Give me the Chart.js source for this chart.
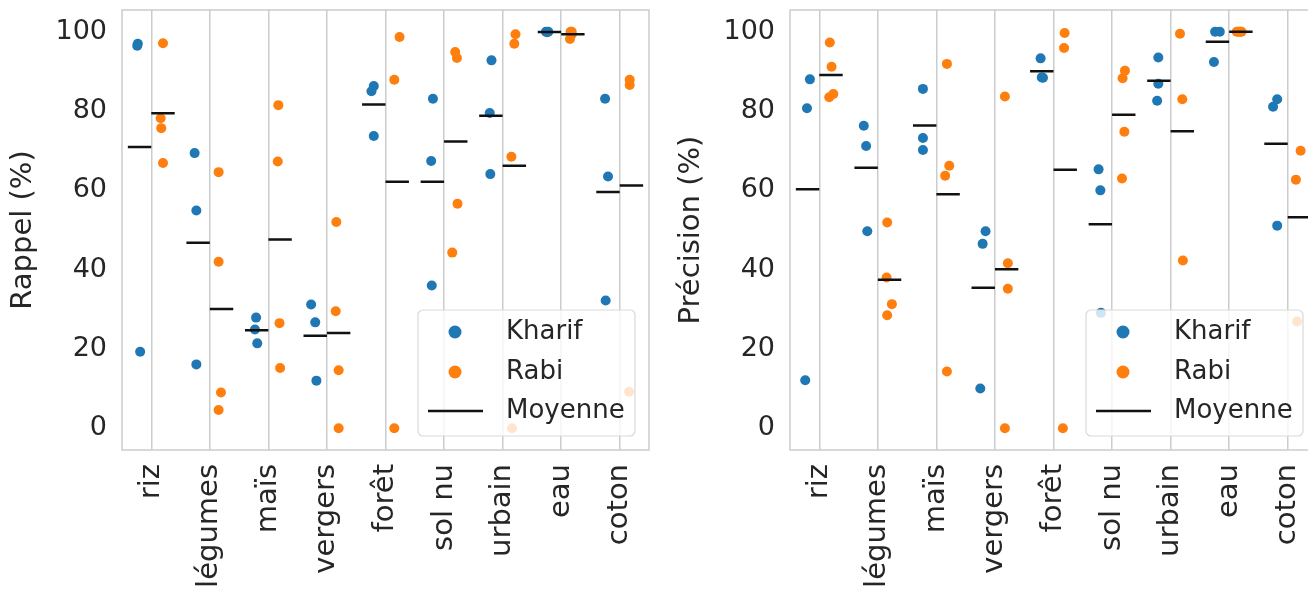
<!DOCTYPE html>
<html>
<head>
<meta charset="utf-8">
<script src="https://cdn.jsdelivr.net/npm/chart.js@4.4.0/dist/chart.umd.min.js"></script>
<style>
  html, body { margin: 0; padding: 0; background: #fff; width: 1308px; height: 594px; overflow: hidden; }
  canvas { position: absolute; top: 0; }
  #rappel { left: 0; }
  #precision { left: 668px; }
</style>
</head>
<body>
<canvas id="rappel" width="654" height="594"></canvas>
<canvas id="precision" width="654" height="594"></canvas>
<script>
const categories = ["riz", "légumes", "maïs", "vergers", "forêt", "sol nu", "urbain", "eau", "coton"];
const yTicks = [0, 20, 40, 60, 80, 100];
const legendLabels = ["Kharif", "Rabi", "Moyenne"];

// Rappel (%) per class, one list of scores per class
const rappelKharif = [[97.0, 96.5, 19.3], [69.4, 54.9, 16.1], [27.9, 24.9, 21.4], [31.2, 26.7, 12.0], [86.3, 85.0, 73.7],
  [83.1, 67.4, 36.0], [92.8, 79.5, 64.1], [100, 100, 99.9], [83.1, 63.5, 32.2]];
const rappelKharifJitter = [[-0.23, -0.24, -0.19], [-0.26, -0.23, -0.23], [-0.21, -0.23, -0.19], [-0.27, -0.2, -0.18], [-0.2, -0.24, -0.2],
  [-0.19, -0.22, -0.21], [-0.19, -0.22, -0.21], [-0.26, -0.22, -0.24], [-0.25, -0.2, -0.24]];
const rappelRabi = [[97.1, 78.2, 75.7, 66.9], [64.6, 42.0, 9.0, 4.6], [81.5, 67.3, 26.5, 15.2], [52.0, 29.5, 14.6, 0], [98.7, 87.9, 0],
  [94.9, 93.4, 56.6, 44.3], [99.4, 97.0, 68.5, 0], [100, 100, 99.3, 98.2], [87.9, 86.6, 9.2]];
const rappelRabiJitter = [[0.2, 0.16, 0.17, 0.2], [0.15, 0.15, 0.19, 0.15], [0.17, 0.16, 0.19, 0.2], [0.16, 0.15, 0.2, 0.2], [0.24, 0.15, 0.15],
  [0.19, 0.22, 0.23, 0.14], [0.22, 0.2, 0.15, 0.16], [0.16, 0.18, 0.18, 0.15], [0.17, 0.17, 0.16]];

// Précision (%)
const precisionKharif = [[88.0, 80.7, 12.1], [76.3, 71.2, 49.7], [85.6, 73.2, 70.2], [49.7, 46.5, 10.0], [93.3, 88.5, 88.4],
  [65.3, 60.0, 29.1], [93.5, 86.9, 82.6], [100, 100, 92.4], [83.0, 81.1, 51.1]];
const precisionKharifJitter = [[-0.16, -0.21, -0.24], [-0.24, -0.2, -0.18], [-0.23, -0.23, -0.23], [-0.16, -0.21, -0.25], [-0.22, -0.2, -0.18],
  [-0.23, -0.2, -0.19], [-0.21, -0.21, -0.23], [-0.24, -0.16, -0.26], [-0.18, -0.25, -0.18]];
const precisionRabi = [[97.3, 91.2, 84.3, 83.5], [51.9, 38.0, 31.3, 28.5], [91.9, 66.2, 63.7, 14.3], [83.7, 41.6, 35.2, 0], [99.7, 95.9, 0],
  [90.2, 88.3, 74.8, 63.0], [99.5, 83.0, 42.3], [100, 100, 100, 100], [70.0, 62.7, 26.9]];
const precisionRabiJitter = [[0.18, 0.21, 0.24, 0.17], [0.16, 0.15, 0.24, 0.16], [0.18, 0.22, 0.15, 0.18], [0.17, 0.22, 0.22, 0.17], [0.19, 0.18, 0.16],
  [0.22, 0.18, 0.21, 0.17], [0.16, 0.2, 0.21], [0.13, 0.16, 0.19, 0.21], [0.22, 0.14, 0.16]];

const BLUE = "#1f77b4";
const ORANGE = "#ff7f0e";
const TEXT = "#262626";
const GRID = "#cccccc";
const FONT = "DejaVu Sans";

const mean = a => a.reduce((s, v) => s + v, 0) / a.length;

function strip(groups, jitter) {
  const pts = [];
  groups.forEach((g, i) => g.forEach((v, j) => pts.push({x: i + jitter[i][j], y: v})));
  return pts;
}

function meanLine(groups, x0, x1) {
  const pts = [];
  groups.forEach((g, i) => {
    const m = mean(g);
    pts.push({x: i + x0, y: m}, {x: i + x1, y: m}, {x: i + x1, y: null});
  });
  return pts;
}

// plot frame, like the matplotlib spines
const framePlugin = {
  id: "frame",
  beforeDatasetsDraw(chart) {
    const {ctx, chartArea: a} = chart;
    ctx.save();
    ctx.strokeStyle = GRID;
    ctx.lineWidth = 1.5;
    ctx.strokeRect(a.left, a.top, a.right - a.left, a.bottom - a.top);
    ctx.restore();
  }
};

// legend box in the lower right corner of the plot
const legendPlugin = {
  id: "boxLegend",
  afterDatasetsDraw(chart) {
    const {ctx, chartArea: a} = chart;
    const w = 217, h = 126;
    const x = a.right - 14 - w, y = a.bottom - 14 - h;
    ctx.save();
    ctx.beginPath();
    ctx.roundRect(x, y, w, h, 5);
    ctx.fillStyle = "rgba(255,255,255,0.8)";
    ctx.fill();
    ctx.strokeStyle = "#d9d9d9";
    ctx.lineWidth = 1.2;
    ctx.stroke();

    const rows = [y + 22, y + 62, y + 101];
    ctx.fillStyle = BLUE;
    ctx.beginPath(); ctx.arc(x + 37, rows[0], 6.5, 0, Math.PI * 2); ctx.fill();
    ctx.fillStyle = ORANGE;
    ctx.beginPath(); ctx.arc(x + 37, rows[1], 6.5, 0, Math.PI * 2); ctx.fill();
    ctx.strokeStyle = "#111";
    ctx.lineWidth = 2.5;
    ctx.beginPath(); ctx.moveTo(x + 10, rows[2]); ctx.lineTo(x + 65, rows[2]); ctx.stroke();

    ctx.fillStyle = TEXT;
    ctx.font = "26px '" + FONT + "'";
    ctx.textBaseline = "middle";
    legendLabels.forEach((t, i) => ctx.fillText(t, x + 88, rows[i]));
    ctx.restore();
  }
};

function makeChart(id, title, kharif, kJit, rabi, rJit) {
  const ctx = document.getElementById(id).getContext("2d");
  return new Chart(ctx, {
    type: "scatter",
    data: {
      datasets: [
        {
          label: "Moyenne Kharif",
          data: meanLine(kharif, -0.4, 0),
          showLine: true, spanGaps: false,
          borderColor: "#111", borderWidth: 2.5, pointRadius: 0,
          order: 0
        },
        {
          label: "Moyenne Rabi",
          data: meanLine(rabi, 0, 0.4),
          showLine: true, spanGaps: false,
          borderColor: "#111", borderWidth: 2.5, pointRadius: 0,
          order: 1
        },
        {
          label: legendLabels[0],
          data: strip(kharif, kJit),
          backgroundColor: BLUE, borderWidth: 0, pointRadius: 5,
          order: 2
        },
        {
          label: legendLabels[1],
          data: strip(rabi, rJit),
          backgroundColor: ORANGE, borderWidth: 0, pointRadius: 5,
          order: 3
        }
      ]
    },
    options: {
      responsive: false,
      animation: false,
      devicePixelRatio: 1,
      layout: { padding: { top: 10, right: 4.5, left: 0, bottom: 0 } },
      plugins: { legend: { display: false }, tooltip: { enabled: false } },
      scales: {
        x: {
          type: "linear",
          min: -0.5, max: 8.5,
          afterBuildTicks: s => { s.ticks = categories.map((c, i) => ({value: i})); },
          afterFit: s => { s.height = 144; s.paddingLeft = 0; s.paddingRight = 0; },
          grid: { color: GRID, lineWidth: 1.5, drawTicks: false },
          border: { display: false },
          ticks: {
            callback: v => categories[v],
            autoSkip: false, minRotation: 90, maxRotation: 90,
            padding: 14, color: TEXT,
            font: { family: FONT, size: 29 }
          }
        },
        y: {
          min: -5.5, max: 105.5,
          afterBuildTicks: s => { s.ticks = yTicks.map(v => ({value: v})); },
          afterFit: s => { s.width = 122; s.paddingTop = 0; s.paddingBottom = 0; },
          grid: { display: false, drawTicks: false },
          border: { display: false },
          ticks: { padding: 15, color: TEXT, font: { family: FONT, size: 27 } },
          title: {
            display: true, text: title, color: TEXT,
            font: { family: FONT, size: 29 },
            padding: { top: 6, bottom: 0 }
          }
        }
      }
    },
    plugins: [framePlugin, legendPlugin]
  });
}

makeChart("rappel", "Rappel (%)", rappelKharif, rappelKharifJitter, rappelRabi, rappelRabiJitter);
makeChart("precision", "Précision (%)", precisionKharif, precisionKharifJitter, precisionRabi, precisionRabiJitter);
</script>
</body>
</html>
